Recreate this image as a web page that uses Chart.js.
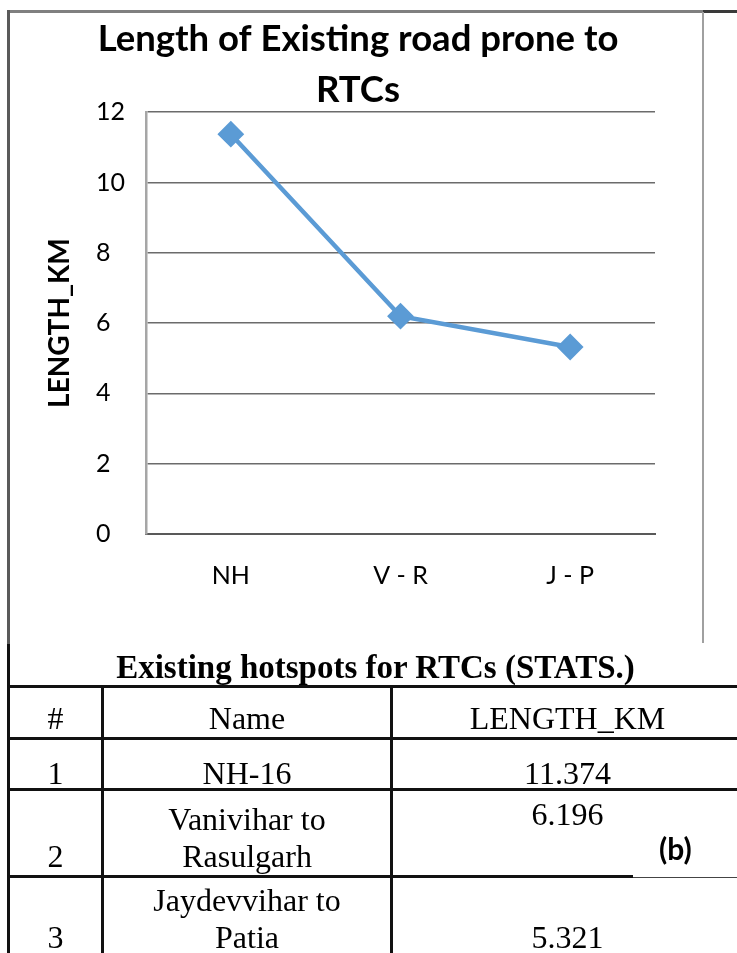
<!DOCTYPE html>
<html>
<head>
<meta charset="utf-8">
<title>Length of Existing road prone to RTCs</title>
<script src="https://cdn.jsdelivr.net/npm/chart.js@4.4.1/dist/chart.umd.min.js"></script>
<style>
    html, body { margin: 0; padding: 0; background: #fff; }
    body { width: 737px; height: 953px; position: relative; overflow: hidden; }
    #chart { position: absolute; left: 10px; top: 0; }
    .rule { position: absolute; }
    #tableTitle {
        position: absolute; left: 8px; top: 649px; width: 735px;
        text-align: center; font: bold 33px/37px 'Liberation Serif', 'Times New Roman', serif;
    }
    #stats {
        position: absolute; left: 7px; top: 684.5px; width: 737px;
        border-collapse: collapse; table-layout: fixed;
        font-family: 'Liberation Serif', 'Times New Roman', serif; font-size: 32px; line-height: 37px;
    }
    #stats td {
        border: 3px solid #111; padding: 0; text-align: center;
        vertical-align: bottom; white-space: pre-line;
    }
    #stats .r0 { height: 52px; }
    #stats .r1 { height: 51px; }
    #stats .r1 td { line-height: 30px; }
    #stats .r2 { height: 87px; }
    #stats .r2 .c2 { vertical-align: top; padding-top: 5px; }
    #stats .r3 { height: 90px; }
    #stats .r3 td { vertical-align: top; padding-top: 41px; }
    #stats .r3 .c1 { padding-top: 4px; }
    #tag {
        position: absolute; left: 633px; top: 831px; width: 108px; height: 46px;
        background: #fff; border-bottom: 1.5px solid #444;
    }
    #tag span {
        position: absolute; left: 26px; top: 0;
        font: bold 30px/34px Lato, sans-serif;
    }
</style>
</head>
<body>
<canvas id="chart" width="692" height="642"></canvas>

<div class="rule" style="left:7px;top:10px;width:696px;height:3px;background:#808080"></div>
<div class="rule" style="left:703px;top:10px;width:34px;height:3px;background:#3a3a3a"></div>
<div class="rule" style="left:7px;top:10px;width:3px;height:634px;background:#5a5a5a"></div>
<div class="rule" style="left:7px;top:644px;width:3px;height:45px;background:#111"></div>
<div class="rule" style="left:702px;top:12px;width:2px;height:631px;background:#a0a0a0"></div>

<div id="tableTitle">Existing hotspots for RTCs (STATS.)</div>
<table id="stats">
    <colgroup><col style="width:94px"><col style="width:289px"><col style="width:352px"></colgroup>
</table>
<div id="tag"><span>(b)</span></div>

<script>
// Chart data
const categories = ['NH', 'V - R', 'J - P'];
const lengthKm = [11.374, 6.196, 5.321];
const yTicks = [0, 2, 4, 6, 8, 10, 12];
const titleLines = ['Length of Existing road prone to', 'RTCs'];
const yTitle = 'LENGTH_KM';

// Table data
const headers = ['#', 'Name', 'LENGTH_KM'];
const rowIds = ['1', '2', '3'];
const rowNames = [['NH-16'], ['Vanivihar to', 'Rasulgarh'], ['Jaydevvihar to', 'Patia']];

const LINE_BLUE = '#5B9BD5';

// Rotated y axis title, drawn left of the tick labels
const yTitlePlugin = {
    id: 'yTitle',
    afterDraw(chart) {
        const { ctx, chartArea } = chart;
        ctx.save();
        ctx.translate(50, (chartArea.top + chartArea.bottom) / 2);
        ctx.rotate(-Math.PI / 2);
        ctx.font = 'bold 28px Lato';
        ctx.fillStyle = '#000';
        ctx.textAlign = 'center';
        ctx.textBaseline = 'middle';
        ctx.fillText(yTitle, 0, 0);
        ctx.restore();
    }
};

function drawChart() {
    const ctx = document.getElementById('chart').getContext('2d');

    new Chart(ctx, {
        type: 'line',
        data: {
            labels: categories,
            datasets: [{
                label: yTitle,
                data: lengthKm,
                xAxisID: 'x',
                yAxisID: 'y',
                borderColor: LINE_BLUE,
                backgroundColor: LINE_BLUE,
                borderWidth: 4.5,
                pointStyle: 'rectRot',
                pointRadius: 12,
                pointBorderWidth: 2,
                tension: 0
            }]
        },
        options: {
            responsive: false,
            animation: false,
            layout: { padding: { left: 51, right: 47, top: 0, bottom: 0 } },
            plugins: {
                legend: { display: false },
                tooltip: { enabled: false },
                title: {
                    display: true,
                    text: titleLines,
                    color: '#000',
                    font: { family: 'Lato', size: 36.5, weight: 'bold', lineHeight: 1.4 },
                    padding: { top: 14, bottom: -4 }
                }
            },
            scales: {
                // empty box that keeps the tick labels clear of the axis title
                spacer: {
                    type: 'linear',
                    position: 'left',
                    weight: 10,
                    grid: { display: false, drawTicks: false },
                    border: { display: false },
                    ticks: { display: false },
                    afterFit: scale => { scale.width = 35; }
                },
                x: {
                    offset: true,
                    grid: { display: false, drawTicks: false },
                    border: { display: true, color: '#595959', width: 2 },
                    ticks: { color: '#000', padding: 27, font: { family: 'Lato', size: 25 } },
                    afterFit: scale => { scale.height = 108; }
                },
                y: {
                    position: 'left',
                    min: 0,
                    max: 12,
                    afterBuildTicks: scale => { scale.ticks = yTicks.map(value => ({ value })); },
                    grid: { color: '#6b6b6b', lineWidth: 1.5, drawTicks: false },
                    border: { color: '#a6a6a6', width: 2.5 },
                    ticks: { crossAlign: 'far', color: '#000', font: { family: 'Lato', size: 25 } },
                    afterFit: scale => { scale.width = 50; }
                }
            }
        },
        plugins: [yTitlePlugin]
    });
}

function buildTable() {
    const table = document.getElementById('stats');
    const head = table.insertRow();
    head.className = 'r0';
    headers.forEach(text => { head.insertCell().textContent = text; });

    rowIds.forEach((id, i) => {
        const row = table.insertRow();
        row.className = 'r' + (i + 1);
        [id, rowNames[i].join('\n'), lengthKm[i].toFixed(3)].forEach((text, j) => {
            const cell = row.insertCell();
            cell.className = 'c' + j;
            cell.textContent = text;
        });
    });
}

document.addEventListener('DOMContentLoaded', () => {
    buildTable();
    drawChart();
});
</script>
</body>
</html>
